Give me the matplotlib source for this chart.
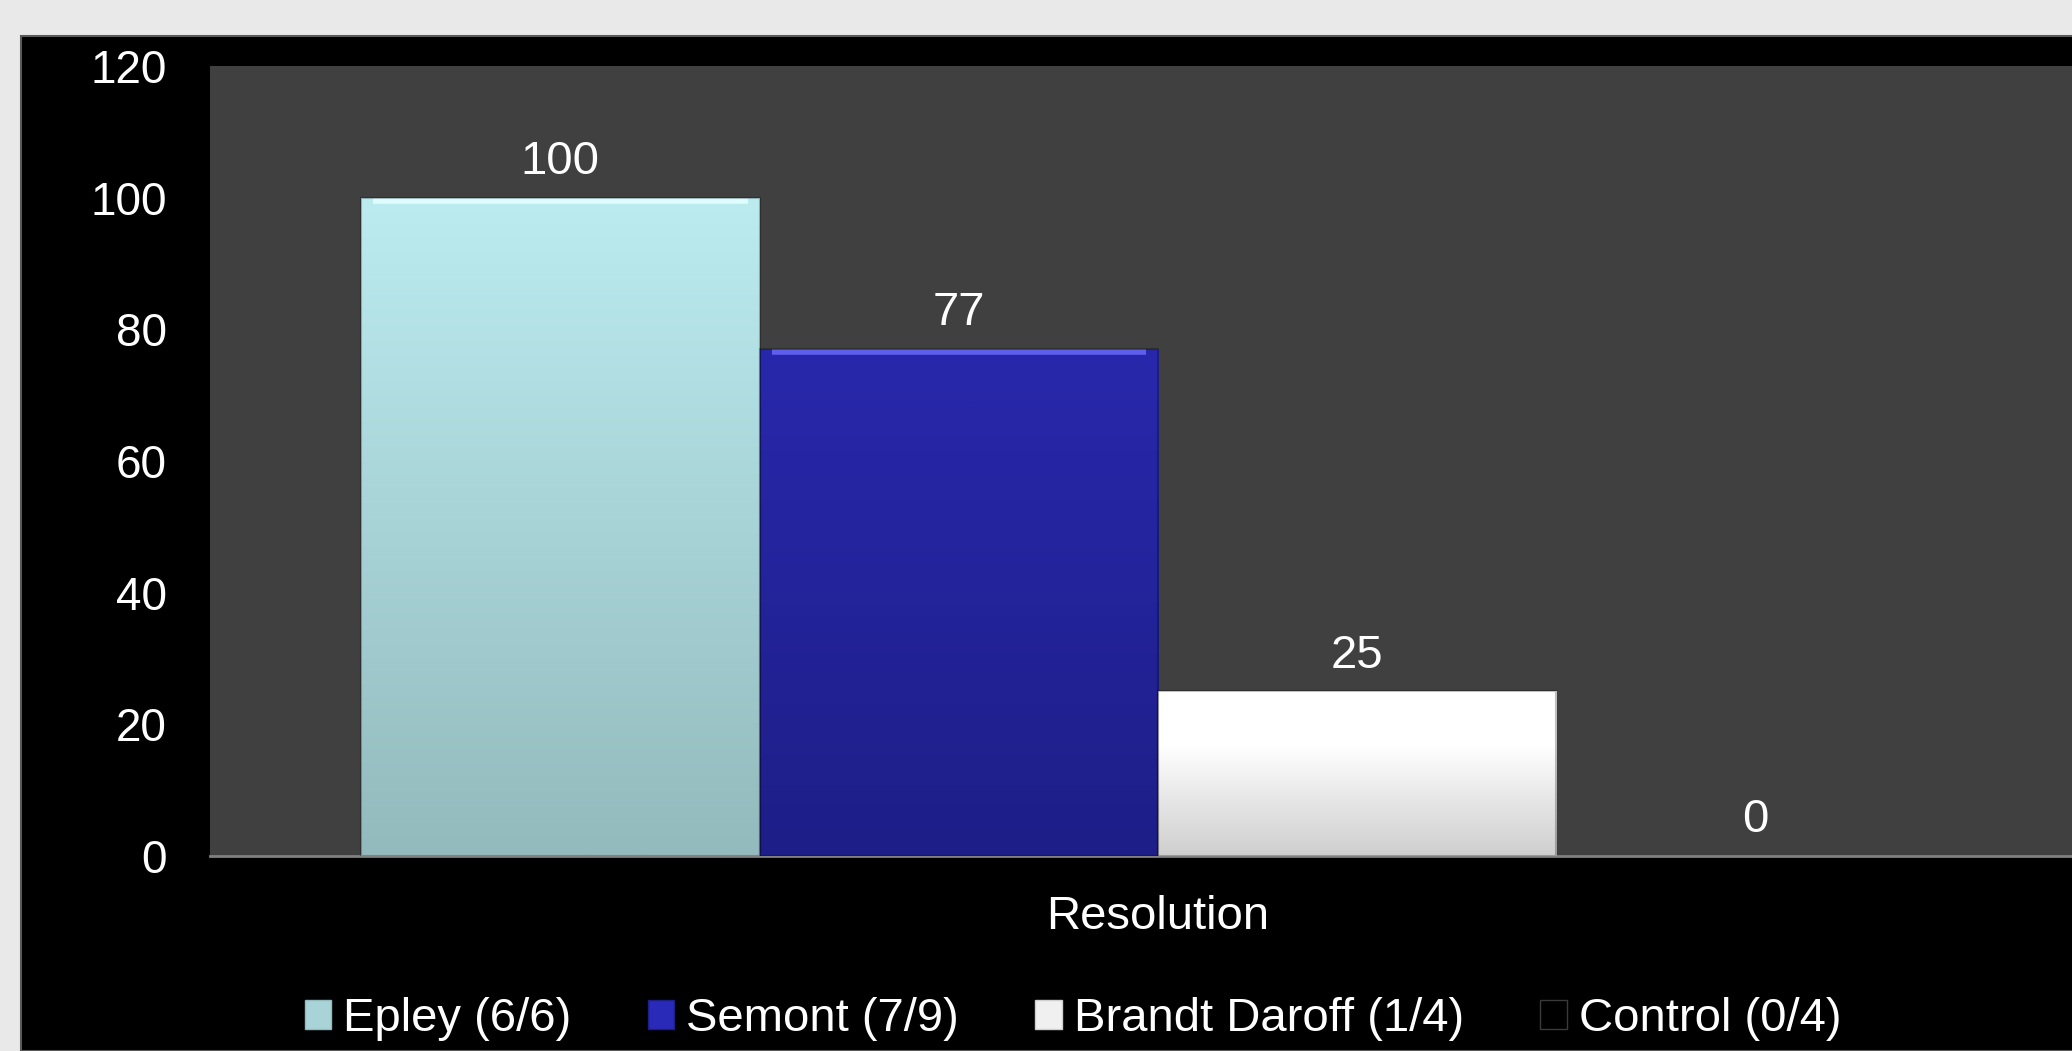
import numpy as np
import matplotlib
matplotlib.use('Agg')
import matplotlib.pyplot as plt
from matplotlib.colors import LinearSegmentedColormap
from matplotlib.patches import Patch, Rectangle

plt.rcParams['font.family'] = ['Liberation Sans', 'DejaVu Sans']

# donnees
groupes = ['Epley (6/6)', 'Semont (7/9)', 'Brandt Daroff (1/4)', 'Control (0/4)']
valeurs = [100, 77, 25, 0]
categorie = 'Resolution'
yticks = [0, 20, 40, 60, 80, 100, 120]

# couleurs haut / bas de chaque barre
c_haut = ['#bcecf0', '#2828ac', '#ffffff', '#202020']
c_bas = ['#93babd', '#1e1e88', '#cfcfcf', '#000000']
c_bord = ['#dffcff', '#5f5fee', '#ffffff', '#333333']
c_legende = ['#a8d4d8', '#2a2ab8', '#f0f0f0', '#000000']

W, H = 2072, 1051
fig = plt.figure(figsize=(W/100, H/100), dpi=100, facecolor='#e9e9e9')

# panneau noir
fond = Rectangle((21/W, 0), 1, 1-36/H, transform=fig.transFigure,
                 facecolor='black', edgecolor='#5a5a5a', lw=1.5, zorder=-10)
fig.add_artist(fond)

ax = fig.add_axes([210/W, 1-856/H, (2106-210)/W, (856-66)/H])
ax.set_facecolor('#404040')

x = np.arange(len(valeurs))
barres = ax.bar(x, valeurs, width=1.0, color='none', edgecolor='none', zorder=2)

for i, b in enumerate(barres):
    h = b.get_height()
    if h <= 0:
        continue
    cmap = LinearSegmentedColormap.from_list('g%d' % i, [c_bas[i], c_haut[i]])
    if i == 2:
        cmap = LinearSegmentedColormap.from_list('g%d' % i, [c_bas[i], '#e6e6e6', c_haut[i], c_haut[i]])
    grad = np.linspace(0, 1, 256).reshape(-1, 1)
    im = ax.imshow(grad, cmap=cmap, origin='lower', aspect='auto',
                   extent=[b.get_x(), b.get_x()+b.get_width(), 0, h], zorder=2)
    im.set_clip_path(b)
    # reflet en haut de la barre
    ax.plot([b.get_x()+0.03, b.get_x()+b.get_width()-0.03], [h-0.45, h-0.45],
            color=c_bord[i], lw=4, zorder=3, solid_capstyle='butt')
    ax.add_patch(Rectangle((b.get_x(), 0), b.get_width(), h, facecolor='none',
                           edgecolor='#00000040', lw=1.5, zorder=3))

for i, v in enumerate(valeurs):
    ax.annotate(str(v), (x[i], v), xytext=(0, 10), textcoords='offset points',
                ha='center', va='bottom', color='white', fontsize=34)

ax.set_xlim(-0.5-151/398, 3.5+151/398)
ax.set_ylim(0, 120)
ax.set_yticks(yticks)
ax.set_yticklabels([str(t) for t in yticks], color='white', fontsize=33)
ax.set_xticks([np.mean(x)])
ax.set_xticklabels([categorie], color='white', fontsize=34)
ax.tick_params(axis='y', length=0, pad=31)
ax.tick_params(axis='x', length=0, pad=28)
for s in ['top', 'right', 'left']:
    ax.spines[s].set_visible(False)
ax.spines['bottom'].set_color('#808080')
ax.spines['bottom'].set_linewidth(2)
ax.spines['bottom'].set_zorder(1)

handles = [Patch(facecolor=c_legende[i], edgecolor='#3a3a3a' if i == 3 else c_bas[i], lw=1)
           for i in range(len(groupes))]
fig.legend(handles, groupes, loc='center', bbox_to_anchor=(1073/W, 1-1019/H), ncol=4,
           frameon=False, fontsize=34, labelcolor='white', handlelength=0.56,
           handleheight=0.56, handletextpad=0.25, columnspacing=1.62)

fig.savefig('out.png', dpi=100, facecolor=fig.get_facecolor())
